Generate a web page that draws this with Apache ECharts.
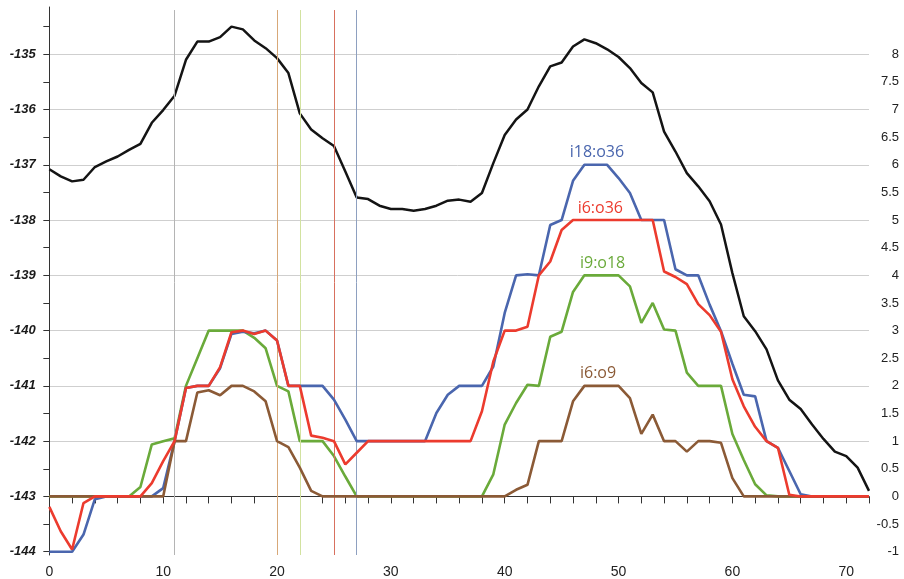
<!DOCTYPE html>
<html>
<head>
<meta charset="utf-8">
<script src="https://cdn.jsdelivr.net/npm/echarts@6/dist/echarts.min.js"></script>
<style>
  html, body { margin: 0; padding: 0; background: #fff; }
  #chart { width: 904px; height: 579px; }
</style>
</head>
<body>
<div id="chart"></div>
<script>
// time steps along the bottom axis
const steps = [0,1,2,3,4,5,6,7,8,9,10,11,12,13,14,15,16,17,18,19,20,21,22,23,24,25,26,27,28,29,30,
  31,32,33,34,35,36,37,38,39,40,41,42,43,44,45,46,47,48,49,50,51,52,53,54,55,56,57,58,59,60,
  61,62,63,64,65,66,67,68,69,70,71,72];

// signal level (left axis)
const signal = [-137.08,-137.21,-137.30,-137.27,-137.04,-136.94,-136.85,-136.73,-136.62,-136.24,
  -136.01,-135.75,-135.10,-134.77,-134.77,-134.69,-134.50,-134.55,-134.75,-134.89,
  -135.07,-135.34,-136.07,-136.36,-136.52,-136.66,-137.12,-137.59,-137.62,-137.74,
  -137.80,-137.80,-137.83,-137.80,-137.74,-137.65,-137.63,-137.67,-137.51,-136.97,
  -136.46,-136.18,-136.00,-135.58,-135.22,-135.15,-134.86,-134.73,-134.80,-134.91,
  -135.05,-135.25,-135.52,-135.69,-136.40,-136.76,-137.15,-137.39,-137.66,-138.08,
  -138.96,-139.74,-140.01,-140.34,-140.90,-141.25,-141.42,-141.70,-141.96,-142.19,
  -142.27,-142.48,-142.90];

// configurations (right axis)
const i18o36 = [-1,-1,-1,-0.69,-0.05,0,0,0,0,0,0.15,1.0,1.96,2.0,2.0,2.32,2.94,2.98,2.95,3.0,
  2.82,2.0,2.0,2.0,2.0,1.75,1.39,1.0,1.0,1.0,1.0,1.0,1.0,1.0,1.51,1.84,2.0,2.0,2.0,2.35,
  3.32,4.0,4.02,4.0,4.91,5.0,5.71,6.0,6.0,6.0,5.76,5.49,5.0,5.0,5.0,4.11,4.0,4.0,3.47,2.99,
  2.4,1.84,1.81,1.0,0.88,0.46,0.04,0,0,0,0,0,0];
const i6o36 = [-0.19,-0.63,-0.96,-0.12,0,0,0,0,0,0.24,0.64,1.0,1.96,2.0,2.0,2.34,2.97,3.0,2.94,3.0,
  2.82,2.0,2.0,1.1,1.06,1.0,0.58,0.79,1.0,1.0,1.0,1.0,1.0,1.0,1.0,1.0,1.0,1.0,1.54,2.44,
  3.0,3.0,3.07,4.0,4.25,4.82,5.0,5.0,5.0,5.0,5.0,5.0,5.0,5.0,4.07,3.97,3.84,3.48,3.28,2.98,
  2.12,1.63,1.26,1.0,0.88,0.03,0,0,0,0,0,0,0];
const i9o18 = [0,0,0,0,0,0,0,0,0.17,0.94,1.0,1.05,2.0,2.5,3.0,3.0,3.0,3.0,2.87,2.68,
  2.0,1.9,1.0,1.0,1.0,0.73,0.36,0,0,0,0,0,0,0,0,0,0,0,0,0.4,
  1.3,1.69,2.02,2.0,2.89,2.98,3.7,4.0,4.0,4.0,4.0,3.8,3.14,3.5,3.02,3.0,2.24,2.0,2.0,2.0,
  1.13,0.66,0.22,0.02,0,0,0,0,0,0,0,0,0];
const i6o9 = [0,0,0,0,0,0,0,0,0,0,0,1.0,1.0,1.88,1.92,1.83,2.0,2.0,1.9,1.72,
  1.0,0.89,0.52,0.1,0,0,0,0,0,0,0,0,0,0,0,0,0,0,0,0,
  0,0.12,0.21,1.0,1.0,1.0,1.72,2.0,2.0,2.0,2.0,1.78,1.13,1.48,1.0,1.0,0.81,1.0,1.0,0.97,
  0.33,0,0,0,0,0,0,0,0,0,0,0,0];

// series names, colours and where their names are written
const configNames  = ['i9:o18', 'i18:o36', 'i6:o9', 'i6:o36'];
const configColors = ['#6aaa3a', '#4a66ae', '#8b5a36', '#ec3b2e'];
const configData   = [i9o18, i18o36, i6o9, i6o36];
const configLabelAt = [[48.6, 4], [48.1, 6], [48.2, 2], [48.4, 5]];

// vertical event markers
const markerX = [11, 20, 22, 25, 27];
const markerColors = ['#b4b4b4', '#d8a878', '#d2e2a0', '#d8705e', '#8ea0c0'];

// axis ticks and labels
const xTicks = [0,2,4,6,8,10,12,14,16,18,20,22,24,26,28,30,32,34,36,38,40,42,44,46,48,50,
  52,54,56,58,60,62,64,66,68,70,72];
const xLabels = [0,10,20,30,40,50,60,70];
const leftTicks = [-144,-143.5,-143,-142.5,-142,-141.5,-141,-140.5,-140,-139.5,-139,
  -138.5,-138,-137.5,-137,-136.5,-136,-135.5,-135,-134.5];
const leftLabels = [-144,-143,-142,-141,-140,-139,-138,-137,-136,-135];
const rightLabels = [-1,-0.5,0,0.5,1,1.5,2,2.5,3,3.5,4,4.5,5,5.5,6,6.5,7,7.5,8];
const gridValues = [0,1,2,3,4,5,6,7,8];

const chart = echarts.init(document.getElementById('chart'), null, { renderer: 'canvas' });
const font = "'Liberation Sans', Arial, sans-serif";
const pairs = arr => steps.map((s, i) => [s, arr[i]]);

const series = [{
  name: 'signal',
  type: 'line',
  yAxisIndex: 0,
  data: pairs(signal),
  showSymbol: false,
  lineStyle: { color: '#141414', width: 2.5 },
  z: 3,
  markLine: {
    silent: true,
    symbol: 'none',
    animation: false,
    label: { show: false },
    data: markerX.map((x, i) => [
      { coord: [x, -134.2], lineStyle: { color: markerColors[i], width: 1, type: 'solid' } },
      { coord: [x, -144.06] }
    ])
  }
}];

configNames.forEach((name, k) => {
  series.push({
    name: name,
    type: 'line',
    yAxisIndex: 1,
    data: pairs(configData[k]),
    showSymbol: false,
    lineStyle: { color: configColors[k], width: 2.6 },
    z: 4 + k,
    markPoint: {
      silent: true,
      animation: false,
      symbol: 'circle',
      symbolSize: 0,
      data: [{ coord: configLabelAt[k] }],
      label: {
        show: true,
        position: 'top',
        distance: 4,
        formatter: name,
        color: configColors[k],
        fontFamily: "'Open Sans', sans-serif",
        fontSize: 16
      }
    }
  });
});

chart.setOption({
  animation: false,
  backgroundColor: '#ffffff',
  grid: { left: 45.7, right: 35, top: 7, bottom: 23.3, containLabel: false },
  xAxis: {
    type: 'value',
    min: -0.32,
    max: 72,
    axisLine: { show: true, lineStyle: { color: '#333', width: 1 } },
    axisTick: { show: true, customValues: xTicks, length: 7, lineStyle: { color: '#333', width: 1 } },
    axisLabel: { show: true, customValues: xLabels, margin: 10, color: '#222', fontSize: 14, fontFamily: font },
    splitLine: { show: false }
  },
  yAxis: [{
    type: 'value',
    position: 'left',
    min: -144.06,
    max: -134.145,
    axisLine: { show: true, lineStyle: { color: '#333', width: 1 } },
    axisTick: { show: true, customValues: leftTicks, length: 6, lineStyle: { color: '#333', width: 1 } },
    axisLabel: {
      show: true, customValues: leftLabels, margin: 10,
      color: '#1a1a1a', fontSize: 13, fontWeight: 'bold', fontStyle: 'italic', fontFamily: font
    },
    splitLine: { show: false }
  }, {
    type: 'value',
    position: 'right',
    min: -1.06,
    max: 8.855,
    axisLine: { show: false },
    axisTick: { show: false, customValues: gridValues },
    axisLabel: {
      show: true, customValues: rightLabels, margin: 30, align: 'right',
      color: '#222', fontSize: 13, fontFamily: font
    },
    splitLine: { show: true, lineStyle: { color: '#cfcfcf', width: 1 } }
  }],
  series: series
});
</script>
</body>
</html>
